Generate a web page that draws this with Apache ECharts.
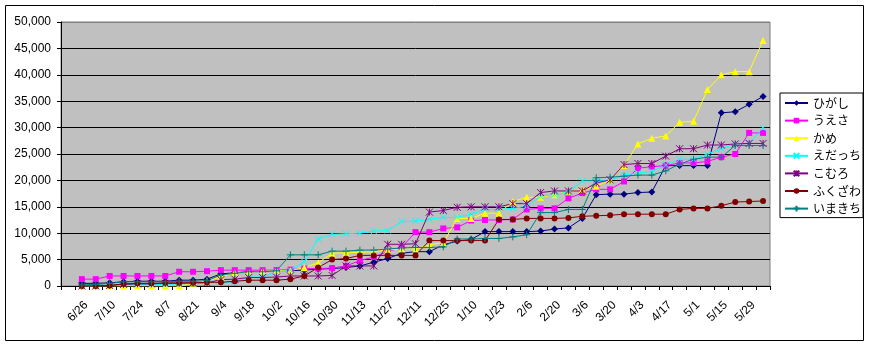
<!DOCTYPE html>
<html><head><meta charset="utf-8">
<script src="https://cdn.jsdelivr.net/npm/echarts@6/dist/echarts.min.js"></script>
<style>html,body{margin:0;padding:0;background:#fff}#c{width:869px;height:346px}</style>
</head><body><div id="c"></div>
<script>
const categories = ['6/19','6/26','7/3','7/10','7/17','7/24','7/31','8/7','8/14','8/21','8/28','9/4','9/11','9/18','9/25','10/2','10/9','10/16','10/23','10/30','11/6','11/13','11/20','11/27','12/4','12/11','12/18','12/25','1/3','1/10','1/16','1/23','1/30','2/6','2/13','2/20','2/27','3/6','3/13','3/20','3/27','4/3','4/10','4/17','4/24','5/1','5/8','5/15','5/22','5/29','6/5'];
const seriesNames = ['ひがし','うえさ','かめ','えだっち','こむろ','ふくざわ','いまきち'];
const higashi = [null, 500,500,600,800,900,900,900,1100,1100,1300, 2300,2500,2700,2800,2900,2900,3000,3200,3300,3500, 3800,4500,5200,6200,6500,6500,7800,8500,8800,10300, 10300,10300,10300,10400,10800,11000,12800,17300,17400,17400, 17700,17800,22800,22800,22800,22800,32800,33000,34400,35900];
const uesa = [null, 1300,1300,1900,1900,1900,1900,1900,2700,2700,2800, 3000,3000,3000,3000,3000,3100,3300,3300,3400,3800, 4800,5500,6500,7300,10200,10200,10900,11100,12400,12500, 12500,12600,14500,14700,14700,16600,17600,18300,18300,19800, 22300,22600,22800,23300,23300,23600,24400,25000,29000,29000];
const kame = [null, 0,0,0,0,0,0,0,0,500,1000, 1700,2500,2600,2800,2900,2900,3500,4400,6200,6300, 6400,6500,6800,7000,7000,7800,8200,12800,12800,13800, 13800,16000,16800,16800,17300,17900,18300,18900,20100,22800, 26900,28000,28400,31000,31200,37200,40000,40600,40600,46500];
const edacchi = [null, 0,0,200,300,300,300,300,400,500,600, 600,800,1700,1700,2600,3000,4600,8900,9800,9900, 10000,10400,10500,12200,12300,12600,13000,13000,13600,14500, 14500,14700,15100,17000,17300,17800,19900,19900,20000,21000, 21400,21700,22900,24000,24000,25000,26000,26900,27000,29900];
const komuro = [null, 0,0,100,300,400,400,500,500,600,600, 1200,1300,1600,1600,1700,1900,1900,1900,2000,3800, 3800,3800,7900,7900,8000,14000,14300,14900,15000,15000, 15000,15600,15600,17700,18000,18000,18000,19500,20100,23000, 23200,23200,24600,26000,26000,26700,26700,26900,27000,27000];
const fukuzawa = [null, 0,0,100,400,500,500,600,600,600,700, 700,900,1100,1100,1100,1300,1900,3500,5000,5200, 5800,5800,5800,5800,5800,8600,8600,8600,8600,8600, 12600,12600,12800,12800,12800,12900,13200,13300,13400,13600, 13600,13600,13600,14500,14700,14700,15200,15900,16000,16100];
const imakichi = [null, 200,300,500,800,800,800,800,900,900,1000, 2100,2400,2700,2700,2900,5900,5900,5900,6600,6600, 6800,6800,7000,7200,7300,7300,7400,8900,8900,9000, 9000,9300,9700,13900,13900,14500,14500,20500,20600,20800, 21000,21000,21800,23100,24000,24400,24400,26600,26600,26600];
const yMin = 0, yMax = 50000, yStep = 5000;

const colors = ['#000080','#FF00FF','#FFFF00','#00FFFF','#800080','#800000','#008080'];
const symbols = ['diamond','rect','triangle','path://M0,0L10,10M10,0L0,10','path://M0,0L10,10M10,0L0,10M5,0L5,10','circle','path://M5,0L5,10M0,5L10,5'];
const sizes = [7,6,7,6,7,6,7];
const dataSets = [higashi, uesa, kame, edacchi, komuro, fukuzawa, imakichi];
const FONT = '"Liberation Sans", Arial, "Noto Sans CJK JP", sans-serif';

const chart = echarts.init(document.getElementById('c'), null, {renderer:'canvas'});
const gridColors = [];
for (let v = yMin; v <= yMax; v += yStep) gridColors.push(v === yMax ? '#808080' : '#000000');

chart.setOption({
  animation: false,
  backgroundColor: '#ffffff',
  graphic: [{type:'rect', shape:{x:5.5,y:5.5,width:858,height:335}, style:{fill:null, stroke:'#000', lineWidth:1}, z:-1}],
  grid: {left:61, right:99, top:22, bottom:60, show:true, backgroundColor:'#C0C0C0', borderColor:'#808080', borderWidth:1},
  legend: {
    orient:'vertical', left:780, top:93, padding:[4,2,3,4],
    itemWidth:23, itemHeight:7, itemGap:5.6,
    backgroundColor:'#fff', borderColor:'#000', borderWidth:1,
    textStyle:{fontFamily:'"Noto Sans CJK JP", sans-serif', fontSize:12, lineHeight:12, color:'#000'},
    data: seriesNames
  },
  xAxis: {
    type:'category', data:categories, boundaryGap:true,
    axisLine:{lineStyle:{color:'#000', width:1}},
    axisTick:{show:true, interval:0, length:4, lineStyle:{color:'#000'}},
    axisLabel:{interval:(i)=>i%2===1, rotate:45, margin:13, verticalAlign:'top', fontSize:12, fontFamily:FONT, color:'#000'},
    splitLine:{show:false}
  },
  yAxis: {
    type:'value', min:yMin, max:yMax, interval:yStep,
    axisLine:{show:true, lineStyle:{color:'#000', width:1}},
    axisTick:{show:true, length:4, lineStyle:{color:'#000'}},
    axisLabel:{margin:10, fontSize:12, fontFamily:FONT, color:'#000', formatter:(v)=>v.toLocaleString('en-US')},
    splitLine:{show:true, lineStyle:{color:gridColors, width:1}}
  },
  series: seriesNames.map((n,k)=>({
    name:n, type:'line', data:dataSets[k], symbol:symbols[k], symbolSize:sizes[k],
    showAllSymbol:true, connectNulls:false,
    lineStyle:{color:colors[k], width:1},
    itemStyle:{color:colors[k], borderColor:colors[k], borderWidth: symbols[k].startsWith('path') ? 1 : 0},
    emphasis:{disabled:true}
  }))
});
</script></body></html>
